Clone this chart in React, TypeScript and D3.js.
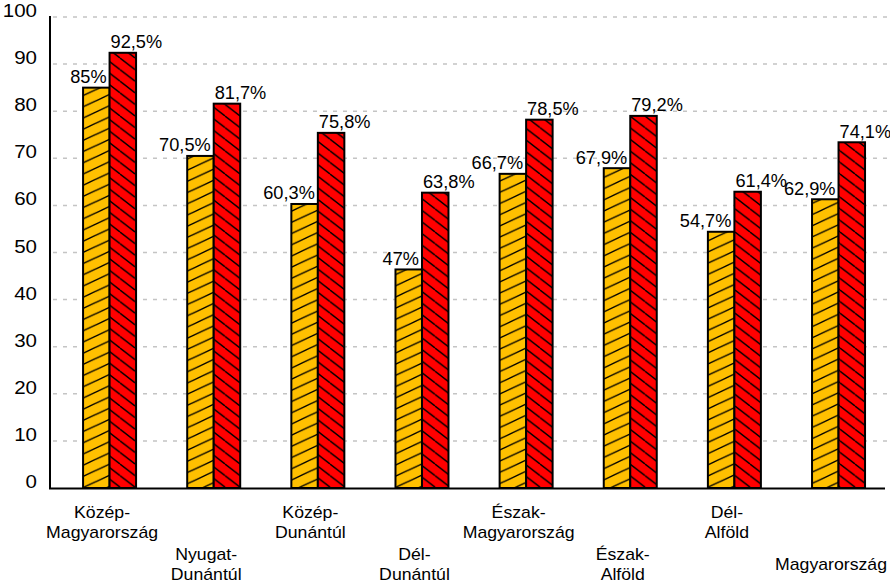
import React from "react";
import * as d3 from "d3";

const categories = [
  "Közép-Magyarország",
  "Nyugat-Dunántúl",
  "Közép-Dunántúl",
  "Dél-Dunántúl",
  "Észak-Magyarország",
  "Észak-Alföld",
  "Dél-Alföld",
  "Magyarország",
];
const categoryLines = [
  ["Közép-", "Magyarország"],
  ["Nyugat-", "Dunántúl"],
  ["Közép-", "Dunántúl"],
  ["Dél-", "Dunántúl"],
  ["Észak-", "Magyarország"],
  ["Észak-", "Alföld"],
  ["Dél-", "Alföld"],
  ["Magyarország"],
];
// bar heights as drawn in the picture
const seriesA = [85, 70.5, 60.3, 46.4, 66.7, 67.9, 54.4, 61.3];
const seriesB = [92.4, 81.6, 75.4, 62.7, 78.2, 79.0, 62.9, 73.4];
// value labels as printed
const labelsA = ["85%", "70,5%", "60,3%", "47%", "66,7%", "67,9%", "54,7%", "62,9%"];
const labelsB = ["92,5%", "81,7%", "75,8%", "63,8%", "78,5%", "79,2%", "61,4%", "74,1%"];
const yTicks = [0, 10, 20, 30, 40, 50, 60, 70, 80, 90, 100];

const W = 890;
const H = 582;
const FONT = "'Liberation Sans', Arial, sans-serif";

export default function App() {
  const x = d3.scaleBand<string>().domain(categories).range([50, 883.1]).padding(0);
  const y = d3.scaleLinear().domain([0, 100]).range([488, 17]);
  const barW = 26.5;
  const shift = 7.5;

  return (
    <svg
      width={W}
      height={H}
      style={{ position: "absolute", left: 0, top: 0, background: "#fff" }}
      fontFamily={FONT}
    >
      <defs>
        <pattern id="hatchA" patternUnits="userSpaceOnUse" width={24} height={11.2}>
          <rect width={24} height={11.2} fill="#FFC000" />
          {[-11.2, 0, 11.2].map((o) => (
            <line key={o} x1={0} y1={11.2 + o} x2={24} y2={o} stroke="#000" strokeWidth={1.4} />
          ))}
        </pattern>
        <pattern id="hatchB" patternUnits="userSpaceOnUse" width={15} height={11.6}>
          <rect width={15} height={11.6} fill="#FF0000" />
          {[-11.6, 0, 11.6].map((o) => (
            <line key={o} x1={0} y1={o} x2={15} y2={11.6 + o} stroke="#000" strokeWidth={1.4} />
          ))}
        </pattern>
      </defs>

      {/* gridlines */}
      {yTicks
        .filter((t) => t > 0)
        .map((t) => (
          <line
            key={t}
            x1={53}
            x2={890}
            y1={y(t)}
            y2={y(t)}
            stroke="#c4c4c4"
            strokeWidth={1.5}
            strokeDasharray="4,6"
          />
        ))}

      {/* tick labels */}
      {yTicks.map((t) => (
        <text
          key={t}
          transform={`translate(37,${y(t)}) scale(1.08,1)`}
          textAnchor="end"
          fontSize={19}
          fill="#000"
        >
          {t}
        </text>
      ))}

      {/* bars */}
      {categories.map((c, i) => {
        const cx = (x(c) as number) + x.bandwidth() / 2 + shift;
        return (
          <g key={c}>
            <rect
              x={cx - barW}
              y={y(seriesA[i])}
              width={barW}
              height={y(0) - y(seriesA[i])}
              fill="url(#hatchA)"
              stroke="#000"
              strokeWidth={2}
            />
            <rect
              x={cx}
              y={y(seriesB[i])}
              width={barW}
              height={y(0) - y(seriesB[i])}
              fill="url(#hatchB)"
              stroke="#000"
              strokeWidth={2}
            />
            <text
              transform={`translate(${cx - 3},${y(seriesA[i]) - 4.5}) scale(1.04,1)`}
              textAnchor="end"
              fontSize={17.5}
            >
              {labelsA[i]}
            </text>
            <text
              transform={`translate(${cx + 1},${y(seriesB[i]) - 4.5}) scale(1.04,1)`}
              textAnchor="start"
              fontSize={17.5}
            >
              {labelsB[i]}
            </text>
          </g>
        );
      })}

      {/* axes */}
      <line x1={50} x2={50} y1={16} y2={489} stroke="#000" strokeWidth={2} />
      <line x1={49} x2={885} y1={488.5} y2={488.5} stroke="#000" strokeWidth={2} />

      {/* category labels */}
      {categories.map((c, i) => {
        const cx = (x(c) as number) + x.bandwidth() / 2;
        const lines = categoryLines[i];
        const center = i % 2 === 0 ? 527.5 : 569.5;
        return (
          <g key={c}>
            {lines.map((l, j) => (
              <text
                key={j}
                transform={`translate(${cx},${center + (j - (lines.length - 1) / 2) * 20}) scale(1.04,1)`}
                textAnchor="middle"
                fontSize={17}
              >
                {l}
              </text>
            ))}
          </g>
        );
      })}
    </svg>
  );
}
